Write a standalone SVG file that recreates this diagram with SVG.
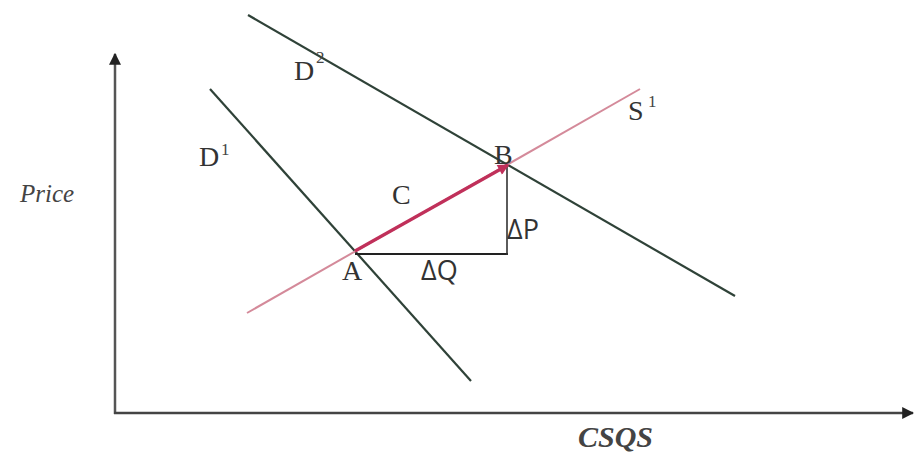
<svg xmlns="http://www.w3.org/2000/svg" width="915" height="453" viewBox="0 0 915 453">
<style>
.lbl{font-family:"Liberation Serif",serif;fill:#333;font-size:28px}
.sup{font-family:"Liberation Serif",serif;fill:#444;font-size:17px}
.sans{font-family:"Open Sans","DejaVu Sans",sans-serif;fill:#333;font-size:27px}
.it{font-family:"Liberation Serif",serif;font-style:italic;fill:#444}
.dem{stroke:#2f4238;stroke-width:2.2;fill:none}
</style>
<defs>
<marker id="ah" viewBox="0 0 10 10" refX="9" refY="5" markerWidth="12" markerHeight="12" orient="auto" markerUnits="userSpaceOnUse"><path d="M0,0 L10,5 L0,10 z" fill="#222"/></marker>
<marker id="ahr" viewBox="0 0 10 10" refX="9" refY="5" markerWidth="13" markerHeight="11" orient="auto" markerUnits="userSpaceOnUse"><path d="M0,0 L10,5 L0,10 z" fill="#c0305a"/></marker>
</defs>
<rect width="915" height="453" fill="#fff"/>
<g id="connectors">
<line x1="115" y1="414" x2="115" y2="54" stroke="#555" stroke-width="2.5" marker-end="url(#ah)"/>
<line x1="114" y1="413" x2="913" y2="413" stroke="#444" stroke-width="2.5" marker-end="url(#ah)"/>
<line id="D2" class="dem" x1="248" y1="15" x2="735" y2="296"/>
<line id="D1" class="dem" x1="210" y1="89" x2="471" y2="381"/>
<line id="S1" x1="247" y1="313" x2="640" y2="89" stroke="#d48a9a" stroke-width="2"/>
<line x1="355" y1="254" x2="508" y2="254" stroke="#222" stroke-width="1.8"/>
<line x1="507" y1="166" x2="507" y2="255" stroke="#333" stroke-width="1.6"/>
<line x1="355" y1="251" x2="508" y2="165" stroke="#c0305a" stroke-width="3.2" marker-end="url(#ahr)"/>
</g>
<g id="labels">
<text class="it" x="20" y="202" font-size="25">Price</text>
<text class="it" x="578" y="447" font-size="30" font-weight="bold" fill="#555">CSQS</text>
<text class="lbl" x="294" y="80">D</text>
<text class="sup" x="316" y="63">2</text>
<text class="lbl" x="199" y="166">D</text>
<text class="sup" x="221" y="155">1</text>
<text class="lbl" x="628" y="120">S</text>
<text class="sup" x="648" y="107">1</text>
<text class="lbl" x="392" y="204">C</text>
<text class="lbl" x="494" y="164">B</text>
<text class="lbl" x="342" y="280" fill="#555">A</text>
<text class="sans" x="507" y="239">ΔP</text>
<text class="sans" x="421" y="280">ΔQ</text>
</g>
</svg>
